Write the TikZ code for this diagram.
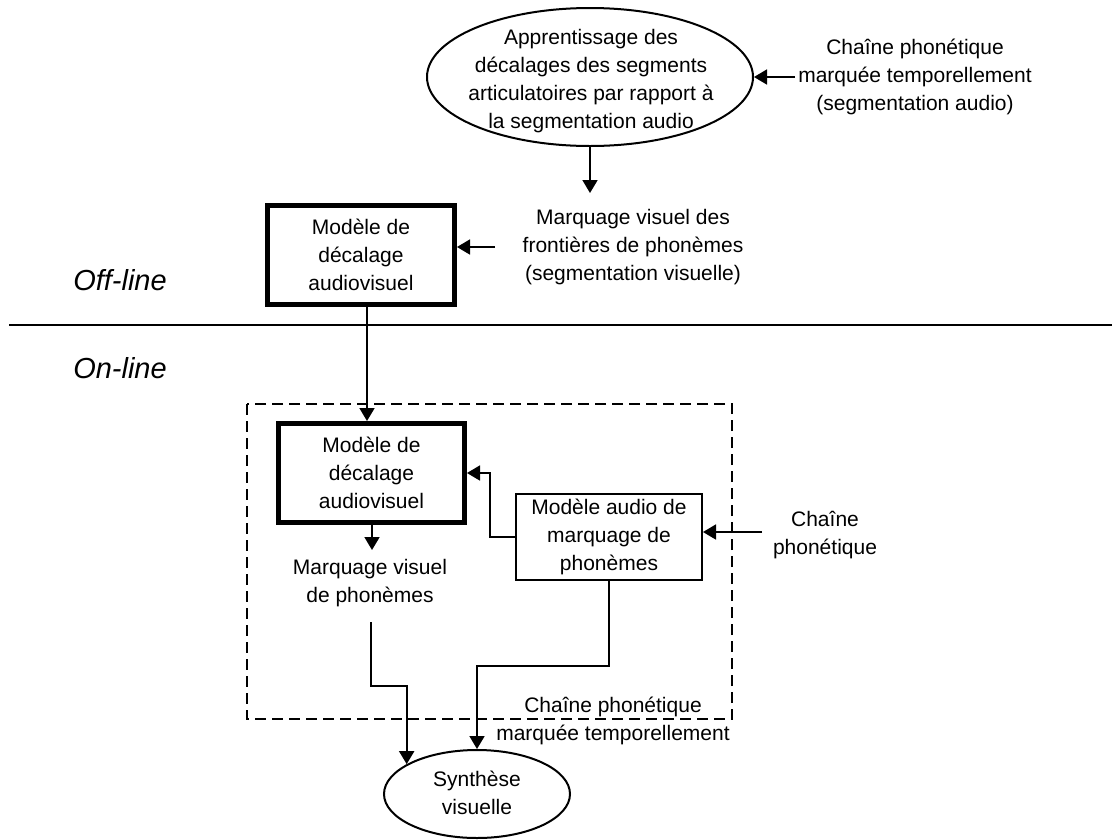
\documentclass[tikz,border=0pt]{standalone}
\usepackage{fontspec}
\setmainfont{Liberation Sans}
\usetikzlibrary{arrows.meta,shapes.geometric}
\begin{document}
\begin{tikzpicture}[x=1pt,y=-1pt,
  txt/.style={align=center,inner sep=0pt,font=\fontsize{21}{28}\selectfont},
  thickbox/.style={draw,line width=5pt,inner sep=0pt,align=center,font=\fontsize{21}{28}\selectfont},
  thinbox/.style={draw,line width=2pt,inner sep=0pt,align=center,font=\fontsize{21}{28}\selectfont},
  oval/.style={draw,ellipse,line width=2pt,inner sep=0pt},
  arr/.style={line width=1.8pt,-{Triangle[length=13pt,width=15pt]}},
  lbl/.style={inner sep=0pt,font=\fontsize{29}{34}\selectfont\itshape},
  sep/.style={line width=1.6pt},
  grp/.style={line width=1.8pt,dash pattern=on 11pt off 6pt}
]
\useasboundingbox (0,0) rectangle (1112,839);

% Offline / online labels and separator
\node[lbl] (off) at (120,280) {Off-line};
\node[lbl] (on) at (120,368) {On-line};
\draw[sep] (9,325) -- (1112,325);

% Top ellipse
\node[oval,minimum width=326pt,minimum height=138pt] (e1) at (590,77) {};
\node[txt] (e1t) at (591,81) {Apprentissage des\\décalages des segments\\articulatoires par rapport à\\la segmentation audio};

\node[txt] (t1) at (915,77) {Chaîne phonétique\\marquée temporellement\\(segmentation audio)};
\coordinate (c1) at (795,77);
\draw[arr] (c1) -- (e1.east);

\node[txt] (t2) at (633,247) {Marquage visuel des\\frontières de phonèmes\\(segmentation visuelle)};
\coordinate (c2) at (590,193);
\draw[arr] (e1.south) -- (c2);

% Off-line model box
\node[thickbox,minimum width=187pt,minimum height=99pt] (b1) at (361,255) {Modèle de\\décalage\\audiovisuel};
\coordinate (c3) at (495,247);
\draw[arr] (c3) -- (b1.east |- c3);

% Online group
\draw[grp] (247,404) rectangle (732,719);

\node[thickbox,minimum width=186pt,minimum height=99pt] (b2) at (371.5,473) {Modèle de\\décalage\\audiovisuel};
\coordinate (v1) at (367,0);
\draw[arr] (b1.south -| v1) -- (b2.north -| v1);

\node[thinbox,minimum width=186pt,minimum height=86pt] (b3) at (609,537) {Modèle audio de\\marquage de\\phonèmes};
\draw[arr] (b3.west) -- ++(-25,0) |- (b2.east);

\node[txt] (t3) at (825,535) {Chaîne\\phonétique};
\coordinate (c4) at (762,532);
\draw[arr] (c4) -- (b3.east |- c4);

\node[txt] (t4) at (370,583) {Marquage visuel\\de phonèmes};
\coordinate (c5) at (372,550);
\draw[arr] (b2.south -| c5) -- (c5);

\node[txt] (t5) at (613,721) {Chaîne phonétique\\marquée temporellement};

% Synthesis
\node[oval,minimum width=186pt,minimum height=88pt] (e2) at (477,794) {};
\node[txt] (e2t) at (477,793) {Synthèse\\visuelle};

\coordinate (c6) at (371,622);
\draw[arr] (c6) -- (371,686) -| (e2.157);
\draw[arr] (b3.south) -- (609,666) -| (e2.north);
\end{tikzpicture}
\end{document}
